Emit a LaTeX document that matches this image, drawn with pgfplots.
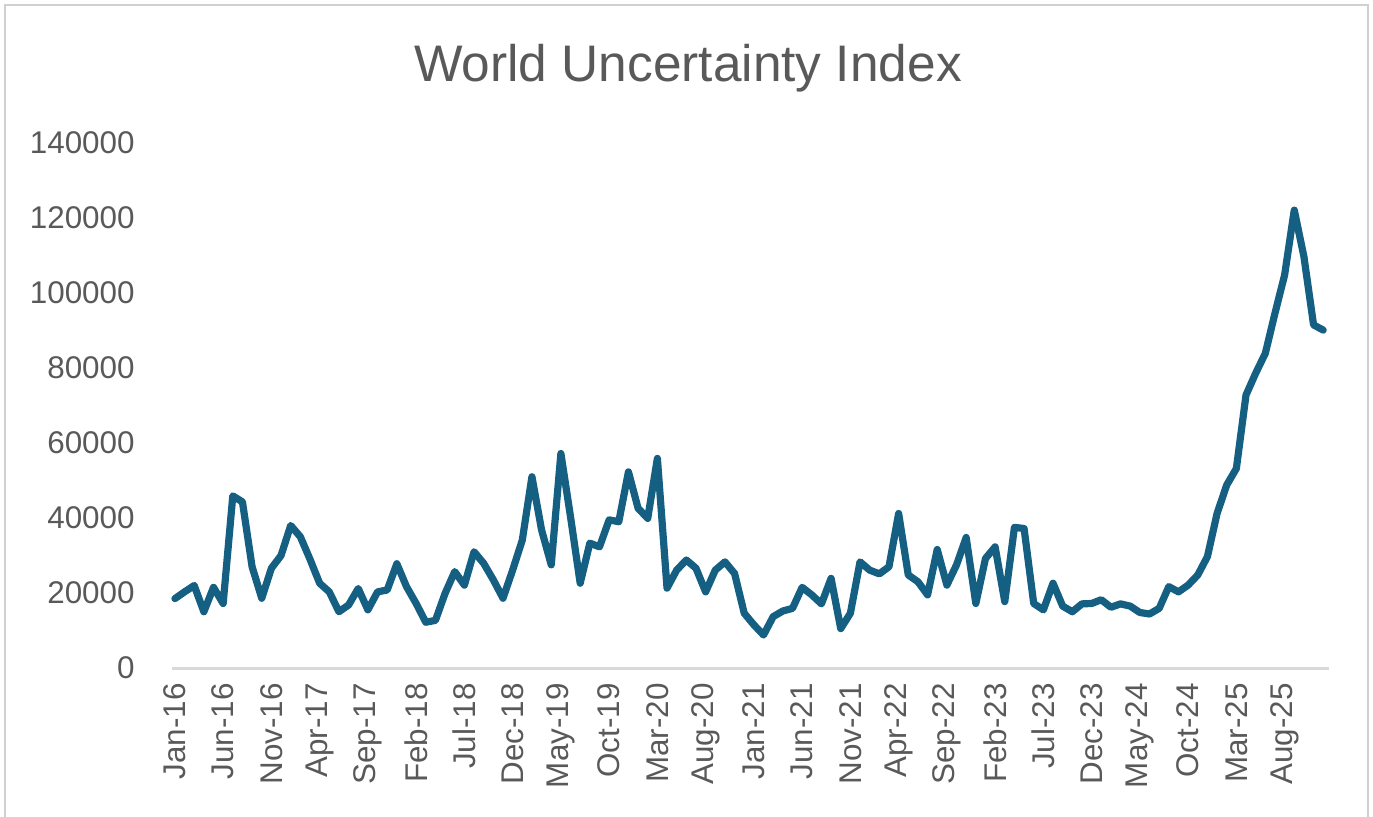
\documentclass[border=0pt]{standalone}
\usepackage{pgfplots}
\pgfplotsset{compat=1.18}
\usepackage{fontspec}
\setmainfont{Liberation Sans}
\definecolor{linecol}{HTML}{156082}
\definecolor{txtgray}{HTML}{595959}
\definecolor{axgray}{HTML}{D9D9D9}
\definecolor{bordergray}{HTML}{D0D0D0}
\begin{document}
\begin{tikzpicture}
\path[use as bounding box] (0,0) rectangle (686.5bp,408.5bp);
\draw[bordergray, line width=1bp] (2.5bp,0) -- (2.5bp,406bp) -- (684bp,406bp) -- (684bp,0);
\node[anchor=base, text=txtgray, font=\fontsize{25.8}{30}\selectfont] at (344bp,367.5bp) {World Uncertainty Index};
\begin{axis}[
  at={(86bp,74.5bp)}, anchor=south west,
  scale only axis, width=578.5bp, height=262.5bp,
  xmin=-0.3, xmax=119.6, ymin=0, ymax=140000,
  axis x line*=bottom, axis y line*=left,
  x axis line style={draw=axgray, line width=1.5bp, -},
  y axis line style={draw=none},
  major tick length=0pt,
  ytick={0,20000,...,140000},
  scaled y ticks=false,
  /pgf/number format/.cd, fixed, set thousands separator={}, assume math mode=true,
  /pgfplots/.cd,
  yticklabel style={anchor=east, inner sep=0pt, xshift=-18.5bp, text=txtgray, font=\fontsize{15.75}{18}\selectfont},
  xtick={0,5,...,115},
  xticklabels={Jan-16,Jun-16,Nov-16,Apr-17,Sep-17,Feb-18,Jul-18,Dec-18,May-19,Oct-19,Mar-20,Aug-20,Jan-21,Jun-21,Nov-21,Apr-22,Sep-22,Feb-23,Jul-23,Dec-23,May-24,Oct-24,Mar-25,Aug-25},
  xticklabel style={yshift=-7.5bp, rotate=90, anchor=east, inner sep=0pt, text=txtgray, font=\fontsize{15.75}{18}\selectfont},
  clip=false,
]
\addplot[linecol, line width=3.6bp, line join=round, line cap=round] coordinates {
(0,18500)(1,20300)(2,22000)(3,15000)(4,21500)(5,17200)(6,45900)(7,44300)(8,27000)(9,18600)
(10,26600)(11,30000)(12,38000)(13,35000)(14,29000)(15,22600)(16,20300)(17,15000)(18,16800)(19,21200)
(20,15500)(21,20300)(22,20800)(23,27800)(24,21700)(25,17200)(26,12200)(27,12700)(28,19900)(29,25700)
(30,22100)(31,31000)(32,27900)(33,23500)(34,18600)(35,26100)(36,34100)(37,51000)(38,36800)(39,27500)
(40,57200)(41,40300)(42,22600)(43,33300)(44,32300)(45,39500)(46,39000)(47,52300)(48,42600)(49,39900)
(50,55900)(51,21300)(52,26100)(53,28800)(54,26600)(55,20300)(56,26100)(57,28300)(58,25200)(59,14600)
(60,11500)(61,8800)(62,13700)(63,15200)(64,15900)(65,21500)(66,19500)(67,17100)(68,23900)(69,10500)
(70,14600)(71,28300)(72,26100)(73,25100)(74,27000)(75,41200)(76,24800)(77,23000)(78,19500)(79,31600)
(80,22100)(81,27500)(82,34800)(83,17200)(84,29200)(85,32300)(86,17700)(87,37500)(88,37200)(89,17200)
(90,15500)(91,22600)(92,16500)(93,15000)(94,17100)(95,17200)(96,18200)(97,16200)(98,17100)(99,16500)
(100,14800)(101,14400)(102,15900)(103,21700)(104,20300)(105,22100)(106,24800)(107,29700)(108,41200)(109,48800)
(110,53200)(111,72800)(112,78600)(113,83900)(114,94600)(115,104800)(116,122100)(117,109700)(118,91500)(119,90100)
};
\end{axis}
\end{tikzpicture}
\end{document}
